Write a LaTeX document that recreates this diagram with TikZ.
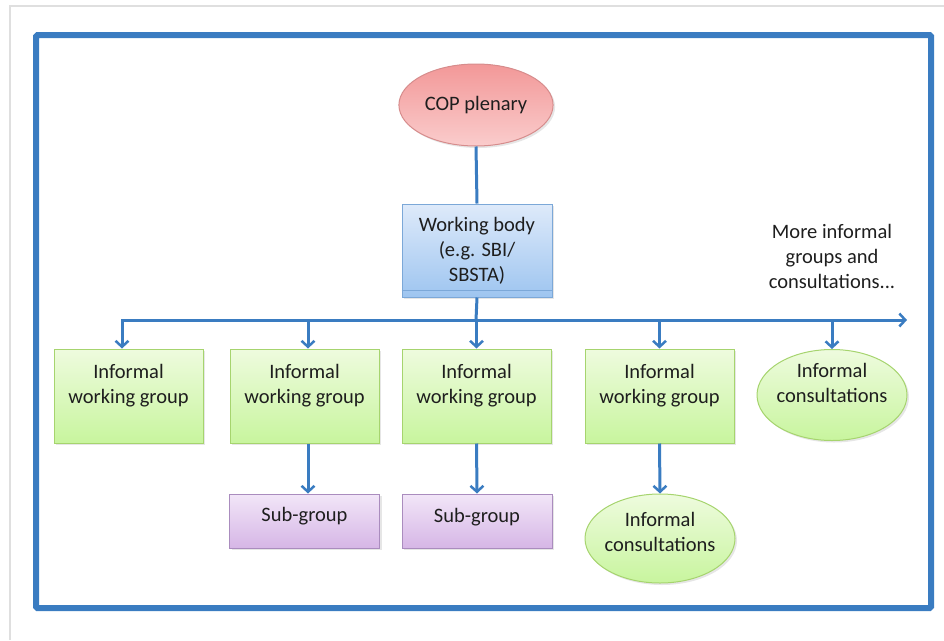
\documentclass[tikz,border=0pt]{standalone}
\usepackage{xcolor}
\usepackage{fontspec}
\setmainfont{Carlito}
\usepackage{tikz}
\usetikzlibrary{shapes.geometric,arrows.meta,shadows}

\definecolor{lineblue}{RGB}{58,124,193}
\definecolor{txtgray}{RGB}{30,30,30}

\tikzset{
	base/.style={font=\fontsize{20.5}{25}\selectfont, text=txtgray, align=center,
		line width=1pt, drop shadow={shadow xshift=2pt, shadow yshift=-2pt, opacity=.2}},
	greenbox/.style={base, rectangle, draw={rgb,255:red,166;green,212;blue,110},
		top color={rgb,255:red,238;green,251;blue,222}, bottom color={rgb,255:red,200;green,245;blue,158},
		minimum width=149pt, minimum height=94pt},
	greenoval/.style={base, ellipse, draw={rgb,255:red,166;green,212;blue,110},
		top color={rgb,255:red,238;green,251;blue,222}, bottom color={rgb,255:red,200;green,245;blue,158},
		minimum width=150pt, minimum height=91pt, inner xsep=-12pt, inner ysep=0pt},
	subbox/.style={base, rectangle, draw={rgb,255:red,170;green,140;blue,190},
		top color={rgb,255:red,242;green,230;blue,248}, bottom color={rgb,255:red,214;green,182;blue,230},
		minimum width=150pt, minimum height=54pt},
	bodybox/.style={base, rectangle, draw={rgb,255:red,124;green,168;blue,216},
		top color={rgb,255:red,222;green,234;blue,250}, bottom color={rgb,255:red,158;green,197;blue,240},
		minimum width=150pt, minimum height=93pt},
	copoval/.style={base, ellipse, draw={rgb,255:red,214;green,140;blue,140},
		top color={rgb,255:red,242;green,152;blue,152}, bottom color={rgb,255:red,250;green,204;blue,204},
		minimum width=150pt, minimum height=82pt},
	link/.style={draw=lineblue, line width=3pt},
	arr/.style={link, -{Straight Barb[length=6pt,width=13pt,line width=2.5pt]}},
	twoarr/.style={link, {Straight Barb[length=6pt,width=13pt,line width=2.5pt]}-{Straight Barb[length=6pt,width=13pt,line width=2.5pt]}},
}

\begin{document}
\begin{tikzpicture}[x=1pt,y=-1pt]
	\useasboundingbox (0,0) rectangle (944,640);
	% page edge and frame
	\draw[gray!25, line width=1.5pt] (10,640) -- (10,6) -- (944,6);
	\draw[lineblue, line width=6pt, rounded corners=1.5pt] (36,35) rectangle (931,608);

	% top of the tree
	\node[copoval] (cop) at (476,105) {COP plenary};
	\node[bodybox] (wb) at (477,250.5) {Working body\\(e.g. SBI/\\SBSTA)};
	\draw[line width=1pt, draw={rgb,255:red,124;green,168;blue,216}]
		([yshift=7pt]wb.south west) -- ([yshift=7pt]wb.south east);

	% informal groups
	\node[greenbox] (g1) at (128.5,396) {Informal\\working group\\~};
	\node[greenbox] (g2) at (304.5,396) {Informal\\working group\\~};
	\node[greenbox] (g3) at (476.5,396) {Informal\\working group\\~};
	\node[greenbox] (g4) at (659.5,396) {Informal\\working group\\~};
	\node[greenoval] (c1) at (832,395) {Informal\\consultations\\~};

	% second level
	\node[subbox] (s2) at (304.5,521) {Sub-group\\[-12pt]~};
	\node[subbox] (s3) at (477,521) {Sub-group\\[-14pt]~};
	\node[greenoval, minimum height=89pt] (c2) at (660,538.5) {Informal\\consultations\\[-12pt]~};

	\node[font=\fontsize{20.5}{25}\selectfont, text=txtgray, align=center] (more) at (832,256)
		{More informal\\groups and\\consultations...};

	% connectors
	\coordinate (bar) at (476,320);
	\coordinate (barend) at (907,320);
	\draw[link] (cop.south) -- (wb.north);
	\draw[link] (wb.south) -- (bar);
	\draw[twoarr] ([xshift=-6.5pt]g1.north) |- (barend);
	\draw[arr] ([xshift=3.5pt]g2.north |- bar) -- ([xshift=3.5pt]g2.north);
	\draw[arr] (g3.north |- bar) -- (g3.north);
	\draw[arr] (g4.north |- bar) -- (g4.north);
	\draw[arr] (c1.north |- bar) -- (c1.north);
	\draw[arr] ([xshift=3.5pt]g2.south) -- ([xshift=3.5pt]g2.south |- s2.north);
	\draw[arr] (g3.south) -- (s3.north);
	\draw[arr] (g4.south) -- (c2.north);
\end{tikzpicture}
\end{document}
